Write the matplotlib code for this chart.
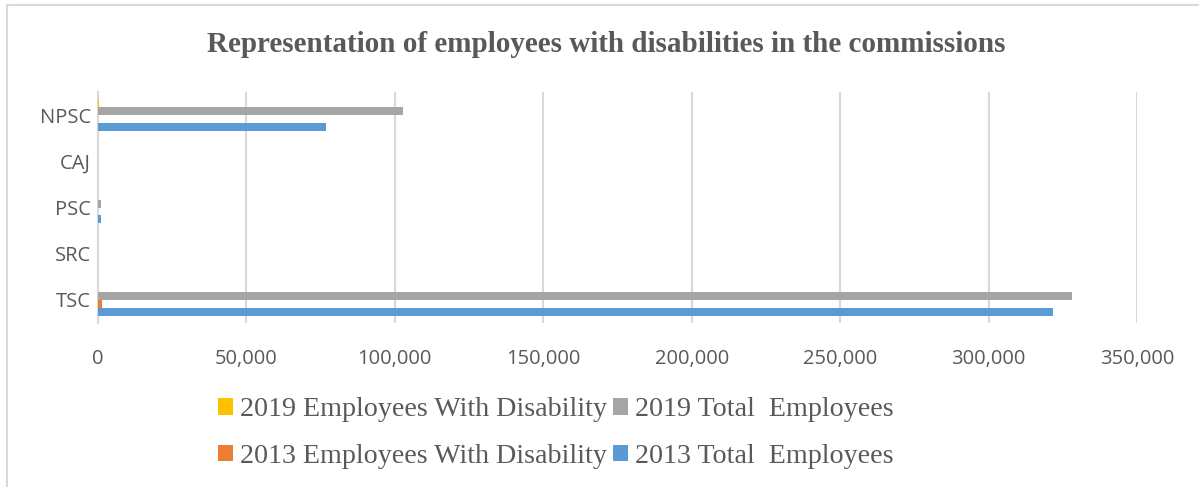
import matplotlib.pyplot as plt
import matplotlib.ticker as ticker
from matplotlib.patches import Rectangle
import numpy as np

commissions = ["TSC", "SRC", "PSC", "CAJ", "NPSC"]
total_2013 = [321700, 0, 1100, 0, 76700]
disab_2013 = [1450, 0, 0, 0, 0]
total_2019 = [328200, 0, 1100, 0, 102900]
disab_2019 = [0, 0, 0, 0, 450]

GREY_TXT = "#595959"

fig = plt.figure(figsize=(11.99, 4.87), dpi=100)
ax = fig.add_axes([98 / 1199, 1 - 323 / 487, (1137 - 98) / 1199, (323 - 92) / 487])

# chart border (Excel style)
fig.patches.append(Rectangle((7 / 1199, -0.1), 1.2, 1.1 - 5 / 487, transform=fig.transFigure,
                             fill=False, edgecolor="#d9d9d9", linewidth=1.5))

y = np.arange(len(commissions))
h = 0.172
series = [
    (total_2013, "#5B9BD5", "2013 Total  Employees"),
    (disab_2013, "#ED7D31", "2013 Employees With Disability"),
    (total_2019, "#A5A5A5", "2019 Total  Employees"),
    (disab_2019, "#FFC000", "2019 Employees With Disability"),
]
bars = {}
for i, (vals, col, lab) in enumerate(series):
    bars[lab] = ax.barh(y + (i - 1.5) * h, vals, height=h, color=col, label=lab, zorder=3)

ax.set_xlim(0, 350000)
ax.set_ylim(-0.5, 4.5)
ax.xaxis.set_major_locator(ticker.MultipleLocator(50000))
ax.xaxis.set_major_formatter(ticker.FuncFormatter(lambda v, p: "{:,.0f}".format(v)))
ax.set_yticks(y)
ax.set_yticklabels(commissions)
ax.grid(axis="x", color="#d9d9d9", linewidth=1.5, zorder=0)
for s in ["top", "right", "bottom"]:
    ax.spines[s].set_visible(False)
ax.spines["left"].set_color("#d9d9d9")
ax.spines["left"].set_linewidth(1.5)
ax.tick_params(axis="both", length=0, labelsize=14.5, colors=GREY_TXT, labelfontfamily="Open Sans")
ax.tick_params(axis="x", pad=19)
ax.tick_params(axis="y", pad=5)

fig.text(0.506, 1 - 45 / 487, "Representation of employees with disabilities in the commissions",
         ha="center", va="center", fontsize=21, fontweight="bold", color=GREY_TXT,
         family="Liberation Serif")

order = ["2019 Employees With Disability", "2013 Employees With Disability",
         "2019 Total  Employees", "2013 Total  Employees"]
leg = fig.legend([bars[k] for k in order], order, ncol=2, loc="center",
                 bbox_to_anchor=(556 / 1199, 1 - 433 / 487), frameon=False,
                 prop={"family": "Liberation Serif", "size": 20.2},
                 handlelength=0.55, handleheight=0.55, handletextpad=0.25,
                 columnspacing=0.2, labelspacing=0.78, borderpad=0)
for t in leg.get_texts():
    t.set_color(GREY_TXT)

plt.savefig("out.png", dpi=100)
